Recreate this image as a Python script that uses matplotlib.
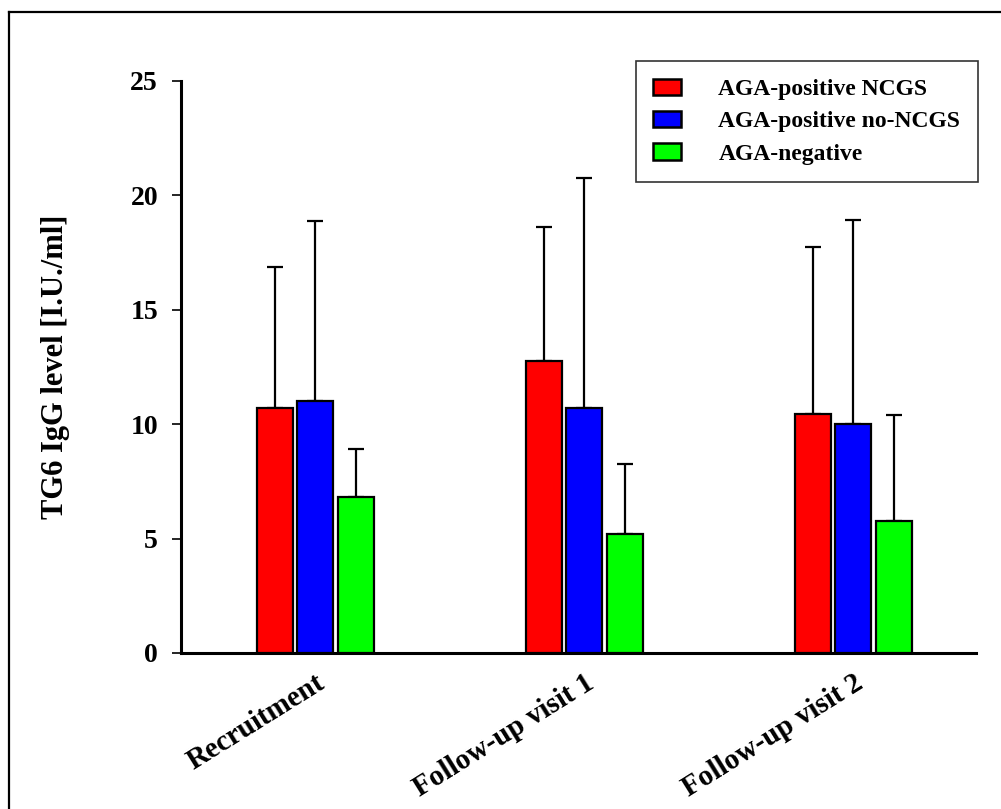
import numpy as np
import matplotlib
matplotlib.use("Agg")
import matplotlib.pyplot as plt
from matplotlib.patches import Patch
from matplotlib.lines import Line2D

plt.rcParams["font.family"] = ["Liberation Serif", "DejaVu Serif"]
plt.rcParams["font.weight"] = "bold"

# TG6 IgG means and upper SD at each visit
Visits = ["Recruitment", "Follow-up visit 1", "Follow-up visit 2"]
Groups = ["AGA-positive NCGS", "AGA-positive no-NCGS", "AGA-negative"]
Colors = ["#ff0000", "#0000ff", "#00ff00"]

ncgs_mean = [10.7, 12.76, 10.43]
ncgs_sd = [6.15, 5.87, 7.33]
no_ncgs_mean = [11.0, 10.69, 10.02]
no_ncgs_sd = [7.87, 10.07, 8.9]
negative_mean = [6.82, 5.2, 5.77]
negative_sd = [2.1, 3.05, 4.63]

means = [ncgs_mean, no_ncgs_mean, negative_mean]
sds = [ncgs_sd, no_ncgs_sd, negative_sd]

fig = plt.figure(figsize=(10.01, 8.09), dpi=100)
ax = fig.add_axes([181/1001, 156/809, (976-181)/1001, (653-81)/809])

x = np.arange(len(Visits))
step = 0.151
width = 0.134
for i in range(3):
    pos = x + (i - 1) * step
    ax.bar(pos, means[i], width=width, color=Colors[i], edgecolor="black",
           linewidth=1.6, zorder=3)
    ax.errorbar(pos, means[i], yerr=[np.zeros(3), sds[i]], fmt="none",
                ecolor="black", elinewidth=1.6, capsize=6, capthick=1.6, zorder=2)

ax.set_xlim(-0.499, 2.456)
ax.set_ylim(0, 25)
ax.set_yticks([0, 5, 10, 15, 20, 25])
ax.set_xticks(x)
ax.set_xticklabels(Visits, rotation=32, ha="right", rotation_mode="anchor",
                   fontsize=21, fontweight="bold")
ax.tick_params(axis="x", length=0, pad=12)
ax.tick_params(axis="y", length=6.5, width=1.2, pad=10, labelsize=20)
for lab in ax.get_yticklabels():
    lab.set_fontweight("bold")

for side in ["top", "right"]:
    ax.spines[side].set_visible(False)
for side in ["left", "bottom"]:
    ax.spines[side].set_linewidth(2.2)

ax.set_ylabel("TG6 IgG level [I.U./ml]", fontsize=22, fontweight="bold")
ax.yaxis.set_label_coords(-0.14, 0.5)

handles = [Patch(facecolor=c, edgecolor="black", linewidth=1.8) for c in Colors]
leg = fig.legend(handles, Groups, loc="upper right",
                 bbox_to_anchor=(978/1001, 1 - 61/809), fontsize=17,
                 frameon=True, fancybox=False, edgecolor="black",
                 handlelength=1.15, handleheight=0.7, handletextpad=1.6,
                 labelspacing=0.45, borderpad=0.75, borderaxespad=0)
leg.get_frame().set_linewidth(1.2)
for t in leg.get_texts():
    t.set_fontweight("bold")

# outer frame, top and left edges only
fig.add_artist(Line2D([9/1001, 1], [1 - 12/809, 1 - 12/809], color="black", linewidth=1.6))
fig.add_artist(Line2D([9/1001, 9/1001], [0, 1 - 12/809], color="black", linewidth=1.6))

fig.savefig("out.png", dpi=100)
